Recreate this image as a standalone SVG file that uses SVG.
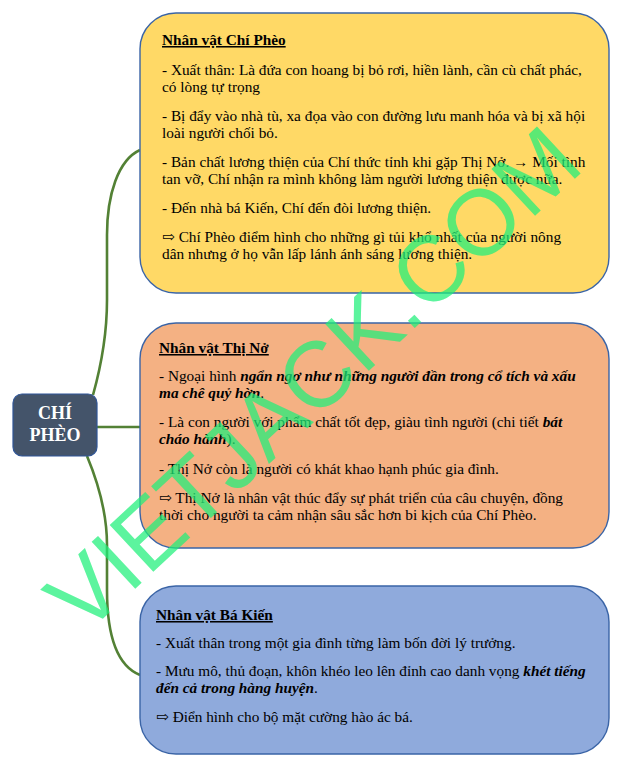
<svg xmlns="http://www.w3.org/2000/svg" width="624" height="767" viewBox="0 0 624 767">
<style>
.box{stroke:#3A64A6;stroke-width:1.4}
.t{font-family:"Liberation Serif","DejaVu Serif","DejaVu Sans",serif;font-size:15.3px;fill:#000}
.h{font-weight:bold;text-decoration:underline}
.bi{font-weight:bold;font-style:italic}
.conn{fill:none;stroke:#538135;stroke-width:2.6}
.ct{font-family:"Liberation Serif",serif;font-size:18px;font-weight:bold;fill:#fff;text-anchor:middle}
.wm{font-family:"Liberation Sans",Arial,sans-serif;font-size:93px;fill:#1EF07A;opacity:0.72;text-anchor:middle}
</style>
<rect width="624" height="767" fill="#fff"/>
<g id="connectors">
<path class="conn" d="M93 395 C100 370 107 340 107 300 L107 235 C107 195 118 160 140 150"/>
<path class="conn" d="M97 427 L140 427"/>
<path class="conn" d="M87 456 C97 480 107 510 107 545 L107 590 C107 630 115 665 140 675"/>
</g>
<g id="node-chipheo">
<rect x="13" y="394" width="84" height="62" rx="9" fill="#44546A" stroke="#2F5597" stroke-width="1.2"/>
<text class="ct" x="55" y="419">CHÍ</text>
<text class="ct" x="55" y="441">PHÈO</text>
</g>
<g id="node-chi-pheo">
<rect class="box" x="140" y="13" width="469" height="280" rx="36" fill="#FFD966"/>
<text class="t h" x="162" y="45">Nhân vật Chí Phèo</text>
<text class="t" x="162" y="75">- Xuất thân: Là đứa con hoang bị bỏ rơi, hiền lành, cần cù chất phác,</text>
<text class="t" x="162" y="92">có lòng tự trọng</text>
<text class="t" x="162" y="121">- Bị đẩy vào nhà tù, xa đọa vào con đường lưu manh hóa và bị xã hội</text>
<text class="t" x="162" y="138">loài người chối bỏ.</text>
<text class="t" x="162" y="167">- Bản chất lương thiện của Chí thức tỉnh khi gặp Thị Nở. → Mối tình</text>
<text class="t" x="162" y="184">tan vỡ, Chí nhận ra mình không làm người lương thiện được nữa.</text>
<text class="t" x="162" y="213">- Đến nhà bá Kiến, Chí đến đòi lương thiện.</text>
<text class="t" x="162" y="242">⇨ Chí Phèo điểm hình cho những gì tủi khổ nhất của người nông</text>
<text class="t" x="162" y="259">dân nhưng ở họ vẫn lấp lánh ánh sáng lương thiện.</text>
</g>
<g id="node-thi-no">
<rect class="box" x="140" y="323" width="469" height="225" rx="36" fill="#F4B183"/>
<text class="t h" x="159" y="353">Nhân vật Thị Nở</text>
<text class="t" x="159" y="381">- Ngoại hình <tspan class="bi">ngẩn ngơ như những người đần trong cổ tích và xấu</tspan></text>
<text class="t" x="159" y="398"><tspan class="bi">ma chê quỷ hờn</tspan>.</text>
<text class="t" x="159" y="427">- Là con người với phẩm chất tốt đẹp, giàu tình người (chi tiết <tspan class="bi">bát</tspan></text>
<text class="t" x="159" y="444"><tspan class="bi">cháo hành</tspan>).</text>
<text class="t" x="159" y="474">- Thị Nở còn là người có khát khao hạnh phúc gia đình.</text>
<text class="t" x="159" y="503">⇨ Thị Nở là nhân vật thúc đẩy sự phát triển của câu chuyện, đồng</text>
<text class="t" x="159" y="520">thời cho người ta cảm nhận sâu sắc hơn bi kịch của Chí Phèo.</text>
</g>
<g id="node-ba-kien">
<rect class="box" x="140" y="586" width="469" height="168" rx="36" fill="#8FAADC"/>
<text class="t h" x="156" y="620">Nhân vật Bá Kiến</text>
<text class="t" x="156" y="648">- Xuất thân trong một gia đình từng làm bốn đời lý trưởng.</text>
<text class="t" x="156" y="676">- Mưu mô, thủ đoạn, khôn khéo leo lên đỉnh cao danh vọng <tspan class="bi">khét tiếng</tspan></text>
<text class="t" x="156" y="693"><tspan class="bi">đến cả trong hàng huyện</tspan>.</text>
<text class="t" x="156" y="722">⇨ Điển hình cho bộ mặt cường hào ác bá.</text>
</g>
<text class="wm" x="0" y="0" transform="translate(312 378) rotate(-43)" dy="0.36em">VIETJACK.COM</text>
</svg>
